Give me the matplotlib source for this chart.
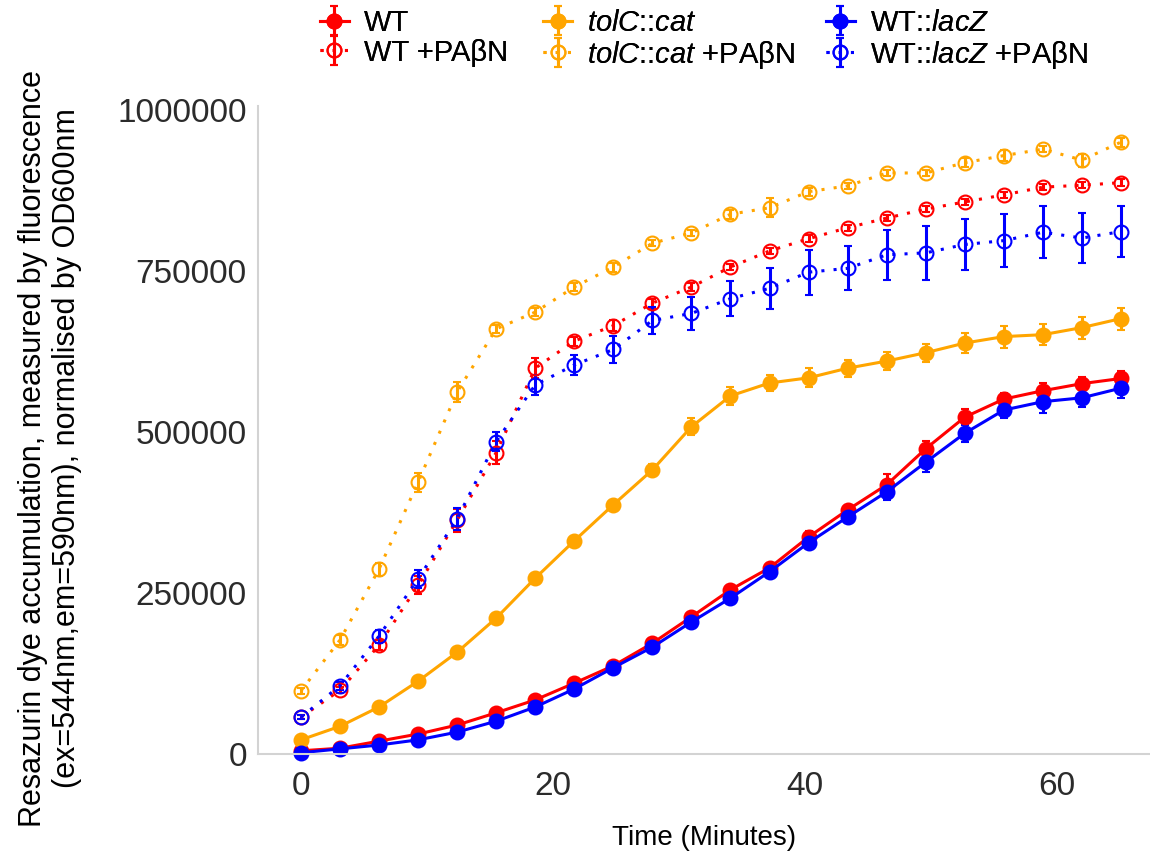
import numpy as np
import matplotlib
matplotlib.use("Agg")
import matplotlib.pyplot as plt

plt.rcParams['font.family'] = ['Liberation Sans', 'DejaVu Sans']
plt.rcParams['mathtext.fontset'] = 'custom'
plt.rcParams['mathtext.rm'] = 'Liberation Sans'
plt.rcParams['mathtext.it'] = 'Liberation Sans:italic'

# sampling times (minutes)
t = [0, 3.1, 6.2, 9.3, 12.4, 15.5, 18.6, 21.7, 24.8, 27.9, 31.0,
     34.1, 37.2, 40.3, 43.4, 46.5, 49.6, 52.7, 55.8, 58.9, 62.0, 65.1]

# resazurin signal / OD600, mean and sd per strain
wt = [5000, 9000, 20000, 31000, 45000, 64000, 84000, 110000, 137000, 172000, 213000,
      255000, 289000, 337000, 379000, 418000, 474000, 523000, 551000, 564000, 575000, 583000]
wt_sd = [1500, 2000, 3000, 3000, 4000, 4000, 5000, 5000, 5000, 6000, 6000,
         7000, 8000, 9000, 8000, 16000, 12000, 12000, 9000, 12000, 10000, 11000]

wt_pab = [57000, 99000, 169000, 262000, 363000, 468000, 599000, 641000, 665000, 700000, 725000,
          756000, 781000, 800000, 817000, 832000, 846000, 857000, 868000, 880000, 883000, 887000]
wt_pab_sd = [3000, 5000, 8000, 14000, 18000, 18000, 16000, 7000, 9000, 7000, 6000,
             5000, 5000, 5000, 5000, 5000, 5000, 5000, 5000, 5000, 5000, 5000]

tolc = [22000, 43000, 73000, 113000, 158000, 211000, 273000, 331000, 387000, 441000, 508000,
        556000, 576000, 584000, 599000, 610000, 623000, 638000, 648000, 651000, 662000, 676000]
tolc_sd = [3000, 4000, 5000, 5000, 6000, 6000, 7000, 7000, 8000, 9000, 13000,
           14000, 12000, 15000, 13000, 14000, 14000, 16000, 17000, 16000, 17000, 17000]

tolc_pab = [98000, 177000, 287000, 422000, 562000, 660000, 686000, 725000, 756000, 793000, 809000,
            838000, 848000, 873000, 882000, 902000, 902000, 918000, 929000, 939000, 922000, 950000]
tolc_pab_sd = [5000, 7000, 10000, 15000, 16000, 6000, 6000, 6000, 7000, 5000, 5000,
               7000, 15000, 6000, 5000, 5000, 5000, 7000, 9000, 5000, 10000, 7000]

lacz = [2000, 8000, 14000, 22000, 34000, 51000, 73000, 101000, 134000, 166000, 205000,
        242000, 283000, 328000, 368000, 407000, 453000, 498000, 534000, 547000, 553000, 568000]
lacz_sd = [1500, 2000, 3000, 3000, 4000, 4000, 4000, 5000, 5000, 5000, 6000,
           6000, 7000, 8000, 9000, 13000, 15000, 13000, 13000, 17000, 15000, 15000]

lacz_pab = [57000, 106000, 183000, 272000, 365000, 485000, 573000, 604000, 628000, 673000, 684000,
            707000, 723000, 748000, 754000, 775000, 778000, 791000, 797000, 810000, 801000, 811000]
lacz_pab_sd = [3000, 6000, 10000, 14000, 17000, 15000, 16000, 15000, 21000, 21000, 25000,
               27000, 32000, 35000, 34000, 39000, 42000, 40000, 41000, 40000, 39000, 40000]

RED, ORANGE, BLUE = '#FF0000', '#FFA500', '#0000FF'

series = [
    (wt, wt_sd, RED, True, 'WT'),
    (wt_pab, wt_pab_sd, RED, False, 'WT +PAβN'),
    (tolc, tolc_sd, ORANGE, True, r'$\it{tolC}$::$\it{cat}$'),
    (tolc_pab, tolc_pab_sd, ORANGE, False, r'$\it{tolC}$::$\it{cat}$ +PAβN'),
    (lacz, lacz_sd, BLUE, True, r'WT::$\it{lacZ}$'),
    (lacz_pab, lacz_pab_sd, BLUE, False, r'WT::$\it{lacZ}$ +PAβN'),
]

fig = plt.figure(figsize=(11.5, 8.52), dpi=100)
ax = fig.add_axes([0.2243, 0.115, 0.7757, 0.7606])

handles = []
for y, sd, col, solid, lab in series:
    h = ax.errorbar(t, y, yerr=sd, color=col, lw=2.2,
                    ls='-' if solid else (0, (1, 3)),
                    marker='o', ms=10,
                    mfc=col if solid else 'none', mec=col, mew=1.5,
                    elinewidth=2.2, capsize=3, capthick=2.2,
                    label=lab, clip_on=False)
    handles.append(h)

ax.set_xlim(-3.41, 67.4)
ax.set_ylim(0, 1006000)
ax.set_xticks([0, 20, 40, 60])
ax.set_yticks([0, 250000, 500000, 750000, 1000000])
ax.set_yticklabels(['0', '250000', '500000', '750000', '1000000'])

for s in ['top', 'right']:
    ax.spines[s].set_visible(False)
for s in ['left', 'bottom']:
    ax.spines[s].set_color('#D3D3D3')
    ax.spines[s].set_linewidth(1.5)

ax.tick_params(length=0, labelsize=24, labelcolor='#2b2b2b')
ax.tick_params(axis='x', pad=12)
ax.tick_params(axis='y', pad=8)

ax.set_xlabel('Time (Minutes)', fontsize=20)
ax.xaxis.set_label_coords(0.5, -0.13)
ax.xaxis.label.set_va('center')

ax.set_ylabel('Resazurin dye accumulation, measured by fluorescence\n'
              '(ex=544nm,em=590nm), normalised by OD600nm',
              fontsize=22, linespacing=1.2)
ax.yaxis.set_label_coords(-0.233, 0.472)
ax.yaxis.label.set_va('center')

# one two-row legend block per strain, spread across the top
for i, x0 in enumerate([0.268, 0.462, 0.708]):
    leg = fig.legend(handles=handles[2 * i:2 * i + 2], loc='upper left',
                     bbox_to_anchor=(x0, 1.003), ncol=1, frameon=False,
                     fontsize=21, handlelength=1.0, handletextpad=0.5,
                     labelspacing=0.05, borderaxespad=0.0)
    fig.add_artist(leg)

fig.savefig('out.png', dpi=100)
